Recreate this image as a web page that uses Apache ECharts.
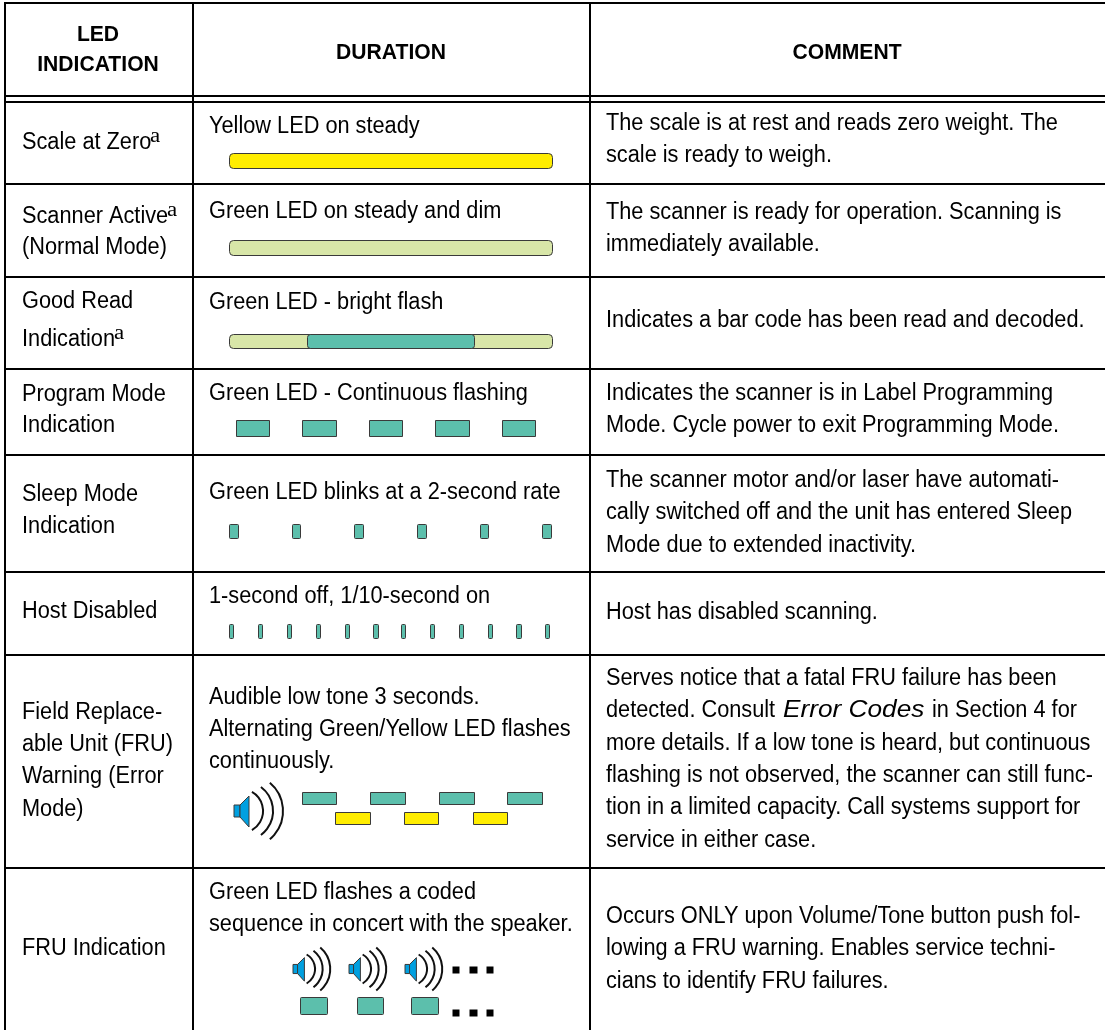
<!DOCTYPE html>
<html>
<head>
<meta charset="utf-8">
<style>
  html, body { margin: 0; padding: 0; background: #fff; }
  #chart { width: 1105px; height: 1030px; }
</style>
<script src="https://cdn.jsdelivr.net/npm/echarts@6/dist/echarts.min.js"></script>
</head>
<body>
<div id="chart"></div>
<script>
// table text
const headers = [["LED", "INDICATION"], ["DURATION"], ["COMMENT"]];
const indications = [
  ["Scale at Zero"],
  ["Scanner Active", "(Normal Mode)"],
  ["Good Read", "Indication"],
  ["Program Mode", "Indication"],
  ["Sleep Mode", "Indication"],
  ["Host Disabled"],
  ["Field Replace-", "able Unit (FRU)", "Warning (Error", "Mode)"],
  ["FRU Indication"],
];
const durations = [
  ["Yellow LED on steady"],
  ["Green LED on steady and dim"],
  ["Green LED - bright flash"],
  ["Green LED - Continuous flashing"],
  ["Green LED blinks at a 2-second rate"],
  ["1-second off, 1/10-second on"],
  ["Audible low tone 3 seconds.", "Alternating Green/Yellow LED flashes", "continuously."],
  ["Green LED flashes a coded", "sequence in concert with the speaker."],
];
const comments = [
  ["The scale is at rest and reads zero weight. The", "scale is ready to weigh."],
  ["The scanner is ready for operation. Scanning is", "immediately available."],
  ["Indicates a bar code has been read and decoded."],
  ["Indicates the scanner is in Label Programming", "Mode. Cycle power to exit Programming Mode."],
  ["The scanner motor and/or laser have automati-", "cally switched off and the unit has entered Sleep", "Mode due to extended inactivity."],
  ["Host has disabled scanning."],
  ["Serves notice that a fatal FRU failure has been", "detected. Consult", "more details. If a low tone is heard, but continuous", "flashing is not observed, the scanner can still func-", "tion in a limited capacity. Call systems support for", "service in either case."],
  ["Occurs ONLY upon Volume/Tone button push fol-", "lowing a FRU warning. Enables service techni-", "cians to identify FRU failures."],
];
const italicRun = "Error Codes";
const afterItalicRun = "in Section 4 for";

// line centres, one list per row
const indicationY = [[143], [217, 248], [302, 340], [395, 426], [495, 527], [612], [713, 745, 777, 810], [949]];
const durationY = [[127], [212], [303], [394], [493], [597], [698, 730, 762], [893, 925]];
const commentY = [[124, 156], [213, 245], [321], [394, 426], [481, 513, 546], [613], [679, 711, 744, 776, 808, 841], [917, 949, 982]];

// LED pulses: [start x, end x, top y, bottom y]
const yellowSteady = [[229, 552, 153, 168]];
const dimSteady = [[229, 552, 240, 255], [229, 552, 334, 348]];
const brightFlash = [[307, 474, 334, 348]];
const programFlash = [[236, 269, 420, 436], [302, 336, 420, 436], [369, 402, 420, 436], [435, 469, 420, 436], [502, 535, 420, 436]];
const sleepBlink = [[229, 238, 524, 538], [292, 300, 524, 538], [354, 363, 524, 538], [417, 426, 524, 538], [480, 488, 524, 538], [542, 551, 524, 538]];
const hostPips = [[229, 233, 624, 638], [258, 262, 624, 638], [287, 291, 624, 638], [316, 320, 624, 638], [345, 349, 624, 638], [373, 378, 624, 638], [401, 405, 624, 638], [430, 434, 624, 638], [459, 463, 624, 638], [488, 492, 624, 638], [516, 521, 624, 638], [545, 549, 624, 638]];
const warnGreen = [[302, 336, 792, 804], [370, 405, 792, 804], [439, 474, 792, 804], [507, 542, 792, 804]];
const warnYellow = [[335, 370, 812, 824], [404, 438, 812, 824], [473, 507, 812, 824]];
const fruGreen = [[300, 327, 997, 1014], [357, 383, 997, 1014], [411, 438, 997, 1014]];
const ellipsisDots = [[452, 459, 966, 973], [469, 477, 966, 973], [486, 493, 966, 973], [452, 459, 1009, 1016], [469, 477, 1009, 1016], [486, 493, 1009, 1016]];
// speakers: [body left x, centre y, scale]
const speakers = [[234, 811, 1], [293, 969, 0.76], [349, 969, 0.76], [405, 969, 0.76]];

// rules of the table
const colLines = [5, 193, 590];
const rowLines = [3, 96, 102, 184, 277, 369, 455, 572, 655, 868];

const FONT = '"Liberation Sans", Arial, sans-serif';
const TEXT_SIZE = 23;
const XSCALE = 0.945;
const COL_X = [22, 209, 606];
const BORDER = "#3a3a3a";
const TEAL = "#5cbfac";
const YELLOW = "#ffed00";
const DIM = "#d8e6a8";

// one text line per item: [x, y, text, font, align, scaleX]
const textItems = [];
function addCell(lines, ys, x) {
  lines.forEach((line, i) => textItems.push([x, ys[i], line, `${TEXT_SIZE}px`, "left", XSCALE]));
}
indications.forEach((lines, r) => addCell(lines, indicationY[r], COL_X[0]));
durations.forEach((lines, r) => addCell(lines, durationY[r], COL_X[1]));
comments.forEach((lines, r) => addCell(lines, commentY[r], COL_X[2]));
textItems.push([783, 711, italicRun, `italic ${TEXT_SIZE}px`, "left", 1.14]);
textItems.push([932, 711, afterItalicRun, `${TEXT_SIZE}px`, "left", XSCALE]);
textItems.push([98, 35, headers[0][0], "bold 22px", "center", 0.96]);
textItems.push([98, 65, headers[0][1], "bold 22px", "center", 0.96]);
textItems.push([391, 53, headers[1][0], "bold 22px", "center", 0.96]);
textItems.push([847, 53, headers[2][0], "bold 22px", "center", 0.96]);

// footnote marks after Scale at Zero, Scanner Active, Indication
const supItems = [[150, 137], [167, 211], [114, 334]];

function rectSeries(data, fill, radius) {
  return {
    type: "custom",
    silent: true,
    animation: false,
    data,
    encode: { x: [0, 1], y: [2, 3] },
    renderItem(params, api) {
      const a = api.coord([api.value(0), api.value(2)]);
      const b = api.coord([api.value(1), api.value(3)]);
      return {
        type: "rect",
        shape: { x: a[0] + 0.5, y: a[1] + 0.5, width: b[0] - a[0], height: b[1] - a[1], r: radius || 0 },
        style: { fill, stroke: fill === "#000" ? null : BORDER, lineWidth: 1 },
      };
    },
  };
}

function ruleSeries(data, vertical) {
  return {
    type: "custom",
    silent: true,
    animation: false,
    data: data.map((v) => [v]),
    encode: vertical ? { x: 0 } : { y: 0 },
    renderItem(params, api) {
      const v = api.value(0);
      const a = vertical ? api.coord([v, rowLines[0] - 1]) : api.coord([colLines[0] - 1, v]);
      const b = vertical ? api.coord([v, 1030]) : api.coord([1105, v]);
      return {
        type: "line",
        shape: { x1: a[0], y1: a[1], x2: b[0], y2: b[1] },
        style: { stroke: "#000", lineWidth: 2 },
      };
    },
  };
}

const speakerSeries = {
  type: "custom",
  silent: true,
  animation: false,
  data: speakers,
  encode: { x: 0, y: 1 },
  renderItem(params, api) {
    const p = api.coord([api.value(0), api.value(1)]);
    const s = api.value(2);
    const x = p[0];
    const y = p[1];
    const arc = (r, tip, half) => ({
      type: "arc",
      shape: { cx: x + (tip - r) * s, cy: y, r: r * s, startAngle: -half, endAngle: half },
      style: { stroke: "#111", fill: null, lineWidth: 2 },
    });
    return {
      type: "group",
      children: [
        { type: "rect", shape: { x, y: y - 6 * s, width: 6 * s, height: 12 * s }, style: { fill: "#00a0e0", stroke: BORDER, lineWidth: 1 } },
        {
          type: "polygon",
          shape: { points: [[x + 6 * s, y - 6 * s], [x + 15 * s, y - 15 * s], [x + 15 * s, y + 16 * s], [x + 6 * s, y + 6 * s]] },
          style: { fill: "#00a0e0", stroke: BORDER, lineWidth: 1 },
        },
        arc(22, 29, 1.05),
        arc(30, 39, 0.93),
        arc(37, 49, 0.87),
      ],
    };
  },
};

const textSeries = {
  type: "custom",
  silent: true,
  animation: false,
  data: textItems.map((t, i) => [t[0], t[1], i]),
  encode: { x: 0, y: 1 },
  renderItem(params, api) {
    const t = textItems[api.value(2)];
    const p = api.coord([api.value(0), api.value(1)]);
    return {
      type: "text",
      x: p[0],
      y: p[1],
      scaleX: t[5],
      style: {
        text: t[2],
        textAlign: t[4],
        textVerticalAlign: "middle",
        font: `${t[3]} ${FONT}`,
        fill: "#000",
      },
    };
  },
};

const supSeries = {
  type: "custom",
  silent: true,
  animation: false,
  data: supItems,
  encode: { x: 0, y: 1 },
  renderItem(params, api) {
    const p = api.coord([api.value(0), api.value(1)]);
    return {
      type: "text",
      x: p[0],
      y: p[1],
      scaleX: 1.15,
      style: { text: "a", textVerticalAlign: "middle", font: '20px "Liberation Serif", serif', fill: "#000" },
    };
  },
};

const option = {
  backgroundColor: "#fff",
  animation: false,
  grid: { left: 0, right: 0, top: 0, bottom: 0 },
  xAxis: { type: "value", min: 0, max: 1105, show: false },
  yAxis: { type: "value", min: 0, max: 1030, inverse: true, show: false },
  series: [
    ruleSeries(colLines, true),
    ruleSeries(rowLines, false),
    rectSeries(yellowSteady, YELLOW, 4),
    rectSeries(dimSteady, DIM, 4),
    rectSeries(brightFlash, TEAL, 3),
    rectSeries(programFlash, TEAL, 0),
    rectSeries(sleepBlink, TEAL, 1),
    rectSeries(hostPips, TEAL, 1),
    rectSeries(warnGreen, TEAL, 0),
    rectSeries(warnYellow, YELLOW, 0),
    rectSeries(fruGreen, TEAL, 1),
    rectSeries(ellipsisDots, "#000", 0),
    speakerSeries,
    textSeries,
    supSeries,
  ],
};

const chart = echarts.init(document.getElementById("chart"), null, { renderer: "canvas" });
chart.setOption(option);
</script>
</body>
</html>
